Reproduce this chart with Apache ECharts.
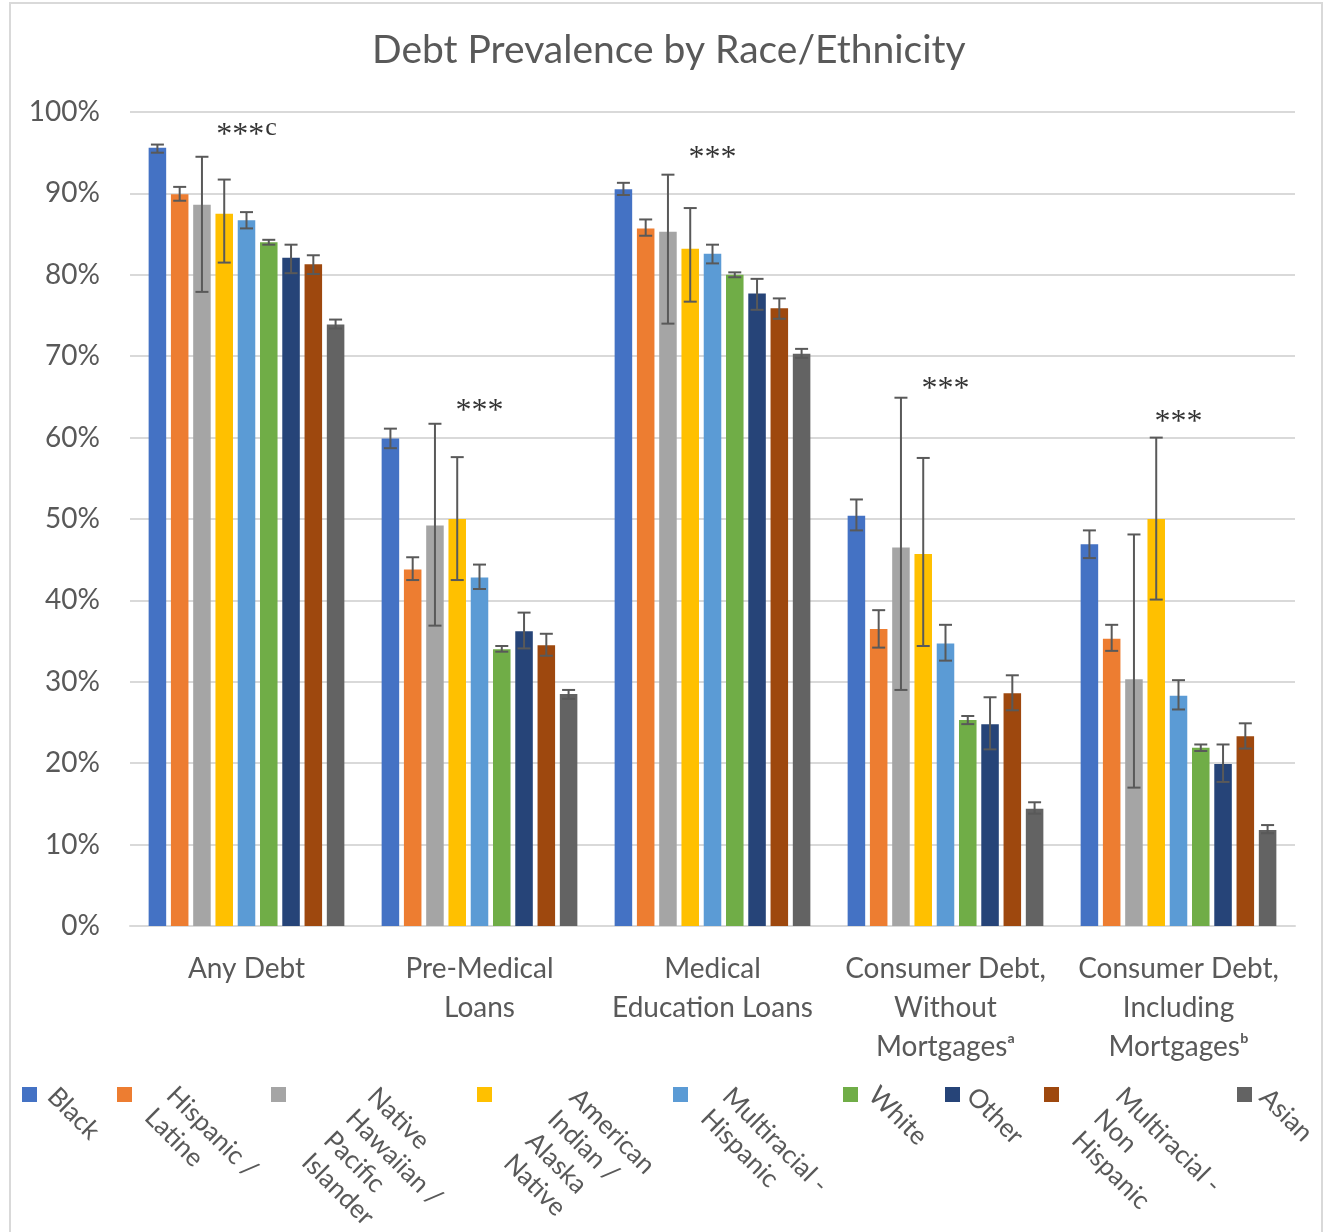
<!DOCTYPE html>
<html>
<head>
<meta charset="utf-8">
<script src="https://cdn.jsdelivr.net/npm/echarts@6/dist/echarts.min.js"></script>
<style>
  html, body { margin: 0; padding: 0; background: #fff; }
  #chart { width: 1325px; height: 1232px; }
</style>
</head>
<body>
<div id="chart"></div>
<script>
// ---------------- DATA ----------------
const categories = ['Any Debt', 'Pre-Medical\nLoans', 'Medical\nEducation Loans', 'Consumer Debt,\nWithout\nMortgagesᵃ', 'Consumer Debt,\nIncluding\nMortgagesᵇ'];
const races = ['Black', 'Hispanic / Latine', 'Native Hawaiian / Pacific Islander', 'American Indian / Alaska Native', 'Multiracial - Hispanic', 'White', 'Other', 'Multiracial - Non Hispanic', 'Asian'];
const legendLabels = ['Black', 'Hispanic /\nLatine', 'Native\nHawaiian /\nPacific\nIslander', 'American\nIndian /\nAlaska\nNative', 'Multiracial -\nHispanic', 'White', 'Other', 'Multiracial -\nNon\nHispanic', 'Asian'];

const blackVals    = [95.6, 59.9, 90.5, 50.4, 46.9];
const blackCI      = [[95.0, 96.0], [58.7, 61.1], [89.8, 91.3], [48.6, 52.4], [45.2, 48.6]];
const hispanicVals = [89.9, 43.8, 85.7, 36.5, 35.3];
const hispanicCI   = [[89.1, 90.8], [42.5, 45.3], [84.8, 86.8], [34.2, 38.8], [33.8, 37.0]];
const nhpiVals     = [88.6, 49.2, 85.3, 46.5, 30.3];
const nhpiCI       = [[77.9, 94.5], [36.9, 61.7], [74.0, 92.3], [29.0, 64.9], [17.0, 48.1]];
const aianVals     = [87.5, 50.0, 83.2, 45.7, 50.0];
const aianCI       = [[81.5, 91.7], [42.5, 57.6], [76.7, 88.2], [34.4, 57.5], [40.1, 60.0]];
const multiHVals   = [86.7, 42.8, 82.6, 34.7, 28.3];
const multiHCI     = [[85.7, 87.7], [41.4, 44.4], [81.4, 83.7], [32.6, 37.0], [26.6, 30.2]];
const whiteVals    = [84.0, 34.0, 80.0, 25.3, 21.9];
const whiteCI      = [[83.7, 84.3], [33.7, 34.4], [79.7, 80.3], [24.8, 25.8], [21.5, 22.3]];
const otherVals    = [82.1, 36.2, 77.7, 24.8, 19.9];
const otherCI      = [[80.2, 83.7], [34.1, 38.5], [75.7, 79.5], [21.7, 28.1], [17.7, 22.3]];
const multiNHVals  = [81.3, 34.5, 75.9, 28.6, 23.3];
const multiNHCI    = [[80.1, 82.4], [33.2, 35.9], [74.6, 77.1], [26.5, 30.8], [21.8, 24.9]];
const asianVals    = [73.9, 28.5, 70.3, 14.4, 11.8];
const asianCI      = [[73.4, 74.5], [27.9, 29.0], [69.8, 70.9], [13.8, 15.2], [11.4, 12.4]];

const sigStars  = ['***', '***', '***', '***', '***'];
const sigNotes  = ['c', '', '', '', ''];
const sigLevels = [97.1, 63.2, 94.3, 65.9, 61.9];

const yTicks = { min: 0, max: 100, step: 10 };

// ---------------- STYLE / LAYOUT ----------------
const colors = ['#4472C4', '#ED7D31', '#A5A5A5', '#FFC000', '#5B9BD5', '#70AD47', '#264478', '#9E480E', '#636363'];
const allVals = [blackVals, hispanicVals, nhpiVals, aianVals, multiHVals, whiteVals, otherVals, multiNHVals, asianVals];
const allCI = [blackCI, hispanicCI, nhpiCI, aianCI, multiHCI, whiteCI, otherCI, multiNHCI, asianCI];
const FONT = 'Lato';
const TEXT = '#595959';
const CAT_GAP = 0.16, BAR_GAP = 0.27;
const legendIconX = [22, 117, 271, 477, 673, 843, 945, 1044, 1237];
const legendTextPos = [[63, 1081], [182, 1080], [383, 1081], [585, 1082], [738, 1081], [884, 1080], [982, 1081], [1131, 1081], [1275, 1082]];

const chart = echarts.init(document.getElementById('chart'), null, { renderer: 'canvas' });

const series = [];
races.forEach((r, i) => {
  series.push({
    type: 'bar', name: r, data: allVals[i],
    itemStyle: { color: colors[i] },
    barGap: (BAR_GAP * 100) + '%', barCategoryGap: (CAT_GAP * 100) + '%',
    z: 2
  });
});
races.forEach((r, i) => {
  const N = races.length;
  series.push({
    type: 'custom', name: r, z: 5, silent: true,
    data: allCI[i].map((d, k) => [k, d[0], d[1]]),
    encode: { x: 0, y: [1, 2] },
    renderItem: (params, api) => {
      const band = api.size([1, 0])[0];
      const usable = band * (1 - CAT_GAP);
      const w = usable / (N + (N - 1) * BAR_GAP);
      const off = -usable / 2 + i * w * (1 + BAR_GAP) + w / 2;
      const lo = api.coord([api.value(0), api.value(1)]);
      const hi = api.coord([api.value(0), api.value(2)]);
      const x = lo[0] + off;
      const cap = 6.5;
      const style = { stroke: '#595959', lineWidth: 2, fill: null };
      return {
        type: 'group', children: [
          { type: 'line', shape: { x1: x, y1: hi[1], x2: x, y2: lo[1] }, style },
          { type: 'line', shape: { x1: x - cap, y1: hi[1], x2: x + cap, y2: hi[1] }, style },
          { type: 'line', shape: { x1: x - cap, y1: lo[1], x2: x + cap, y2: lo[1] }, style }
        ]
      };
    }
  });
});
series.push({
  type: 'scatter', name: 'sig', silent: true, z: 6,
  symbolSize: 0,
  data: sigLevels.map((v, k) => [k, v]),
  label: {
    show: true, position: 'inside',
    formatter: p => '{s|' + sigStars[p.dataIndex] + '}' + (sigNotes[p.dataIndex] ? '{c|' + sigNotes[p.dataIndex] + '}' : ''),
    rich: {
      s: { fontFamily: 'Liberation Serif', fontSize: 32, color: '#000' },
      c: { fontFamily: 'Liberation Serif', fontSize: 26, color: '#000', padding: [0, 0, 14, 1] }
    }
  }
});

const legends = races.map((r, i) => ({
  data: [r], left: legendIconX[i], top: 1087, padding: 0,
  itemWidth: 15, itemHeight: 15, icon: 'rect', itemGap: 0,
  formatter: () => '', textStyle: { fontSize: 1 }
}));

const graphics = [
  { type: 'rect', shape: { x: 10, y: 3, width: 1312, height: 1250 }, style: { fill: null, stroke: '#d9d9d9', lineWidth: 2 }, silent: true, z: -1 }
];
legendLabels.forEach((t, i) => {
  graphics.push({
    type: 'text', x: legendTextPos[i][0], y: legendTextPos[i][1], rotation: -Math.PI / 4,
    style: { text: t, font: '26px ' + FONT, fill: TEXT, textAlign: 'left', textVerticalAlign: 'top', lineHeight: 31 },
    silent: true
  });
});

chart.setOption({
  animation: false,
  backgroundColor: '#fff',
  title: {
    text: 'Debt Prevalence by Race/Ethnicity', left: 372, top: 31, padding: 0,
    textStyle: { fontFamily: FONT, fontSize: 39, fontWeight: 'normal', color: TEXT }
  },
  grid: { left: 130, right: 30, top: 112, bottom: 306, containLabel: false },
  xAxis: {
    type: 'category', data: categories,
    axisLine: { lineStyle: { color: '#d9d9d9', width: 2 } },
    axisTick: { show: false },
    axisLabel: { interval: 0, fontFamily: FONT, fontSize: 28, lineHeight: 39, color: TEXT, margin: 23 }
  },
  yAxis: {
    type: 'value', min: yTicks.min, max: yTicks.max, interval: yTicks.step,
    axisLine: { show: false }, axisTick: { show: false },
    axisLabel: { formatter: '{value}%', fontFamily: FONT, fontSize: 28, color: TEXT, margin: 30 },
    splitLine: { lineStyle: { color: '#d9d9d9', width: 2 } }
  },
  legend: legends,
  graphic: graphics,
  series: series
});
</script>
</body>
</html>
